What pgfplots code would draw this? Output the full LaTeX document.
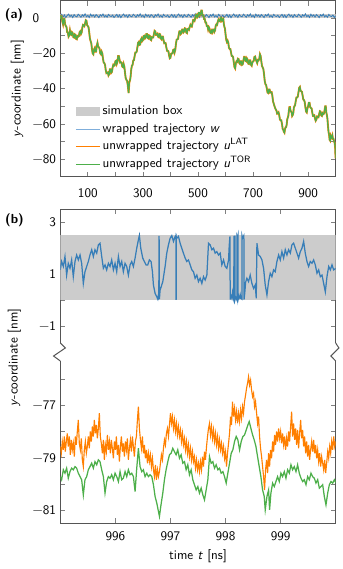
\documentclass[border=0pt]{standalone}
\usepackage{pgfplots}
\usepackage{pgfplotstable}
\pgfplotsset{compat=1.18}
\definecolor{cblue}{HTML}{377EB8}
\definecolor{lblue}{HTML}{7FAEDB}
\definecolor{corange}{HTML}{FF7F00}
\definecolor{cgreen}{HTML}{4DAF4A}
\definecolor{boxgray}{HTML}{CCCCCC}
\definecolor{axgray}{HTML}{555555}
\newcommand{\fnt}{\sffamily\fontsize{10.5}{12.6}\selectfont}

\pgfplotsset{
  myaxis/.style={
    scale only axis, width=220.3pt,
    axis line style={axgray, line width=0.8pt},
    tick style={gray, line width=0.6pt},
    major tick length=4pt,
    tick align=inside,
    tick label style={font=\fnt},
    label style={font=\fnt},
  },
  lineleg/.style={legend image code/.code={\draw[##1, line width=0.8pt] (0pt,0pt) -- (19pt,0pt);}},
  blueleg/.style={legend image code/.code={\draw[lblue, line width=0.8pt] (0pt,0pt) -- (19pt,0pt);}},
  boxleg/.style={legend image code/.code={\fill[boxgray] (0pt,-3.3pt) rectangle (19pt,3.3pt);}},
}

% unwrapped trajectory, full 1000 ns (both unwrappings coincide at this scale)
\pgfplotstableread{
t y
0 -0.5
2.5 1.2
5 1.0
7.5 -2.0
10 -3.5
12.5 -0.8
15 -0.5
17.5 -3.5
20 -4.5
22.5 -5.0
25 -8.0
27.5 -8.2
30 -10.5
32.5 -9.8
35 -7.0
37.5 -9.2
40 -9.5
42.5 -8.0
45 -8.5
47.5 -10.8
50 -11.0
52.5 -9.2
55 -9.5
57.5 -11.8
60 -12.0
62.5 -10.2
65 -10.5
67.5 -10.2
70 -8.0
72.5 -7.5
75 -9.0
77.5 -8.2
80 -5.5
82.5 -3.8
85 -4.0
87.5 -4.5
90 -3.0
92.5 -1.2
95 -1.5
97.5 -4.0
100 -4.5
102.5 -5.2
105 -8.0
107.5 -11.5
110 -13.0
112.5 -14.2
115 -17.5
117.5 -20.0
120 -20.5
122.5 -17.8
125 -17.0
127.5 -19.0
130 -19.0
132.5 -15.5
135 -14.0
137.5 -16.2
140 -16.5
142.5 -17.2
145 -20.0
147.5 -20.5
150 -19.0
152.5 -20.0
155 -23.0
157.5 -25.2
160 -25.5
162.5 -26.5
165 -29.5
167.5 -31.2
170 -31.0
172.5 -30.8
175 -32.5
177.5 -31.8
180 -29.0
182.5 -29.0
185 -31.0
187.5 -30.5
190 -28.0
192.5 -26.5
195 -27.0
197.5 -26.8
200 -24.5
202.5 -24.2
205 -26.0
207.5 -24.8
210 -21.5
212.5 -21.5
215 -23.5
217.5 -25.2
220 -25.0
222.5 -25.2
225 -27.5
227.5 -27.8
230 -26.0
232.5 -27.5
235 -31.0
237.5 -34.0
240 -35.0
242.5 -35.5
245 -38.0
248 -42.5
251 -36.0
253 -35.5
255 -33.5
257.5 -29.2
260 -27.0
262.5 -26.5
265 -24.0
267.5 -23.8
270 -21.5
272.5 -19.5
275 -19.5
277.5 -19.0
280 -16.5
282.5 -14.0
285 -13.5
287.5 -15.2
290 -15.0
292.5 -12.2
295 -11.5
297.5 -13.0
300 -12.5
302.5 -10.2
305 -10.0
307.5 -11.5
310 -11.0
312.5 -9.0
315 -9.0
317.5 -11.2
320 -11.5
322.5 -9.8
325 -10.0
327.5 -12.2
330 -12.5
332.5 -10.8
335 -11.0
337.5 -11.0
340 -9.0
342.5 -7.2
345 -7.5
347.5 -9.5
350 -9.5
352.5 -9.0
355 -10.5
357.5 -10.8
360 -9.0
362.5 -9.2
365 -11.5
367.5 -12.0
370 -10.5
372.5 -10.5
375 -12.5
377.5 -14.2
380 -14.0
382.5 -14.2
385 -16.5
387.5 -18.5
390 -18.5
392.5 -18.8
395 -21.0
397.5 -22.8
400 -22.5
402.5 -20.2
405 -20.0
407.5 -20.0
410 -18.0
412.5 -17.8
415 -19.5
417.5 -18.0
420 -14.5
422.5 -12.2
425 -12.0
427.5 -11.8
430 -9.5
432.5 -7.5
435 -7.5
437.5 -9.0
440 -8.5
442.5 -6.5
445 -6.5
447.5 -8.0
450 -7.5
452.5 -5.8
455 -6.0
457.5 -8.2
460 -8.5
462.5 -6.2
465 -6.0
467.5 -6.5
470 -5.0
472.5 -3.8
475 -4.5
477.5 -4.8
480 -3.0
482.5 -1.0
485 -1.0
487.5 -1.5
490 0.0
492.5 1.8
495 2.0
497.5 0.5
500 1.0
502.5 3.0
505 3.0
507.5 1.8
510 2.5
512 4.3
514 4.3
516 2.0
518 1.5
520 1.5
522 -0.5
524.5 -0.5
527 -2.5
529.5 -2.5
532 -4.5
534.5 -4.5
537 -6.5
539.5 -5.2
542 -6.0
544.5 -8.2
547 -8.5
549.5 -7.2
552 -8.0
554.5 -6.5
557 -6.5
559.5 -7.8
562 -7.0
564.5 -4.2
567 -3.5
569.5 -3.8
572 -2.0
574.5 -0.8
577 -1.5
579.5 -1.8
582 0.0
584.5 0.2
587 -1.5
589.5 -1.0
592 -0.5
594 -3.5
596 -5.0
598 -6.0
600 -9.0
602.5 -12.2
605 -13.5
607.5 -12.8
610 -14.0
612.5 -16.8
615 -17.5
617.5 -17.5
620 -19.5
622.5 -21.5
625 -21.5
627.5 -22.2
630 -25.0
632.5 -27.8
635 -28.5
637.5 -25.5
640 -24.5
642.5 -24.8
645 -23.0
647.5 -23.2
650 -25.5
652.5 -26.0
655 -24.5
657.5 -24.5
660 -26.5
662.5 -26.2
665 -24.0
667.5 -22.0
670 -22.0
672.5 -24.2
675 -24.5
677.5 -22.8
680 -23.5
682.5 -25.8
685 -26.0
687.5 -24.0
690 -24.0
692.5 -26.5
695 -27.0
697.5 -25.2
700 -24.5
702.5 -24.2
705 -22.0
707.5 -21.8
710 -23.5
712.5 -24.5
715 -25.5
717.5 -23.8
720 -24.0
722.5 -23.2
725 -20.5
727.5 -21.5
730 -24.5
732.5 -27.2
735 -28.0
737.5 -29.0
740 -32.0
742.5 -35.8
745 -37.5
747.5 -38.0
750 -40.0
752.5 -42.2
755 -42.5
757.5 -40.5
760 -40.5
762.5 -42.2
765 -42.0
767.5 -42.0
770 -44.0
772.5 -47.2
775 -48.5
777.5 -49.8
780 -51.0
782.5 -51.8
785 -52.5
787.5 -54.2
790 -54.0
792.5 -53.5
795 -55.0
797.5 -57.5
800 -58.0
802.5 -58.0
805 -60.0
807.5 -62.8
810 -63.5
812 -64.5
814 -65.0
816 -63.0
818 -62.0
820 -61.8
822 -60.5
824 -57.5
826 -56.5
828 -55.5
830 -52.5
832 -50.5
834 -50.5
836 -52.5
838 -53.0
840 -53.5
842 -55.5
844 -55.0
846 -54.0
848 -51.0
850 -50.0
852.5 -49.5
855 -47.0
857.5 -45.0
860 -45.0
862.5 -44.5
865 -42.0
867.5 -39.5
870 -39.0
872.5 -41.2
875 -41.5
877.5 -41.8
880 -44.0
882.5 -46.2
885 -46.5
887.5 -47.5
890 -50.5
892.5 -53.0
895 -53.5
897.5 -51.2
900 -50.0
902.5 -48.0
905 -48.0
907.5 -50.5
910 -51.0
912.5 -51.2
915 -53.5
917.5 -55.5
920 -55.5
922.5 -55.2
925 -57.0
927.5 -58.2
930 -57.5
932.5 -55.8
935 -56.0
937.5 -56.2
940 -54.5
942.5 -52.8
945 -53.0
947.5 -55.2
950 -55.5
952.5 -54.0
955 -54.5
957.5 -54.2
960 -52.0
962 -50.0
964 -50.0
966 -53.5
968 -55.0
970 -57.0
972 -61.0
974 -64.5
976 -66.0
978 -69.0
980 -69.5
982 -67.0
984 -68.0
986 -67.5
988 -66.5
990 -68.5
992 -68.5
994 -70.0
996 -70.5
998 -73.0
999 -77.0
1000 -79.5
}\trajA

\begin{document}
\begin{tikzpicture}[font=\fnt]
\useasboundingbox (0,0) rectangle (273.6pt,-455.2pt);

% ---------------- panel (a) ----------------
\begin{axis}[myaxis, name=pa, at={(48.24pt,-0.4pt)}, anchor=north west, height=141pt,
  xmin=0, xmax=1000, ymin=-90, ymax=10,
  xtick={100,200,...,900}, xticklabels={100,,300,,500,,700,,900},
  ytick={-80,-70,...,0}, yticklabels={−80,,−60,,−40,,−20,,0\phantom{−0}},
  xticklabel style={yshift=-5.8pt},
  ylabel={\textit{y}-coordinate [nm]},
  legend style={draw=none, fill=none, at={(0.04,0.435)}, anchor=north west,
    font=\fnt, row sep=0pt, nodes={inner sep=2pt, text height=7.5pt, text depth=2.5pt}},
  legend cell align=left,
]
\addplot[draw=none, fill=boxgray, boxleg] coordinates {(0,0) (1000,0) (1000,2.5) (0,2.5)} -- cycle;
\addlegendentry{simulation box}
\addplot[cblue, line width=0.7pt, blueleg] coordinates {
(0,1.2)(5,2.1)(10,0.6)(15,1.8)(20,0.3)(25,1.5)(30,2.3)(35,0.9)(40,1.7)(45,0.4)(50,2.0)(55,1.1)(60,0.7)(65,2.2)(70,1.4)(75,0.5)(80,1.9)(85,1.0)(90,2.4)(95,0.8)
(100,1.6)(105,0.4)(110,2.2)(115,1.0)(120,1.8)(125,0.6)(130,2.0)(135,1.3)(140,0.3)(145,1.9)(150,1.1)(155,2.3)(160,0.7)(165,1.5)(170,0.5)(175,2.1)(180,1.2)(185,0.9)(190,1.7)(195,0.4)
(200,1.2)(205,2.1)(210,0.6)(215,1.8)(220,0.3)(225,1.5)(230,2.3)(235,0.9)(240,1.7)(245,0.4)(250,2.0)(255,1.1)(260,0.7)(265,2.2)(270,1.4)(275,0.5)(280,1.9)(285,1.0)(290,2.4)(295,0.8)
(300,1.6)(305,0.4)(310,2.2)(315,1.0)(320,1.8)(325,0.6)(330,2.0)(335,1.3)(340,0.3)(345,1.9)(350,1.1)(355,2.3)(360,0.7)(365,1.5)(370,0.5)(375,2.1)(380,1.2)(385,0.9)(390,1.7)(395,0.4)
(400,1.2)(405,2.1)(410,0.6)(415,1.8)(420,0.3)(425,1.5)(430,2.3)(435,0.9)(440,1.7)(445,0.4)(450,2.0)(455,1.1)(460,0.7)(465,2.2)(470,1.4)(475,0.5)(480,1.9)(485,1.0)(490,2.4)(495,0.8)
(500,1.6)(505,0.4)(510,2.2)(515,1.0)(520,1.8)(525,0.6)(530,2.0)(535,1.3)(540,0.3)(545,1.9)(550,1.1)(555,2.3)(560,0.7)(565,1.5)(570,0.5)(575,2.1)(580,1.2)(585,0.9)(590,1.7)(595,0.4)
(600,1.2)(605,2.1)(610,0.6)(615,1.8)(620,0.3)(625,1.5)(630,2.3)(635,0.9)(640,1.7)(645,0.4)(650,2.0)(655,1.1)(660,0.7)(665,2.2)(670,1.4)(675,0.5)(680,1.9)(685,1.0)(690,2.4)(695,0.8)
(700,1.6)(705,0.4)(710,2.2)(715,1.0)(720,1.8)(725,0.6)(730,2.0)(735,1.3)(740,0.3)(745,1.9)(750,1.1)(755,2.3)(760,0.7)(765,1.5)(770,0.5)(775,2.1)(780,1.2)(785,0.9)(790,1.7)(795,0.4)
(800,1.2)(805,2.1)(810,0.6)(815,1.8)(820,0.3)(825,1.5)(830,2.3)(835,0.9)(840,1.7)(845,0.4)(850,2.0)(855,1.1)(860,0.7)(865,2.2)(870,1.4)(875,0.5)(880,1.9)(885,1.0)(890,2.4)(895,0.8)
(900,1.6)(905,0.4)(910,2.2)(915,1.0)(920,1.8)(925,0.6)(930,2.0)(935,1.3)(940,0.3)(945,1.9)(950,1.1)(955,2.3)(960,0.7)(965,1.5)(970,0.5)(975,2.1)(980,1.2)(985,0.9)(990,1.7)(995,0.4)(1000,1.2)
};
\addlegendentry{wrapped trajectory \textit{w}}
\addplot[corange, line width=1.5pt, lineleg] table[x=t, y=y] {\trajA};
\addlegendentry{unwrapped trajectory \textit{u}\textsuperscript{LAT}}
\addplot[cgreen, line width=1pt, lineleg] table[x=t, y=y] {\trajA};
\addlegendentry{unwrapped trajectory \textit{u}\textsuperscript{TOR}}
\end{axis}

% ---------------- panel (b), upper part ----------------
\begin{axis}[myaxis, name=bu, at={(48.24pt,-167.2pt)}, anchor=north west, height=107.2pt,
  xmin=995, xmax=1000, ymin=-1.63, ymax=3.5,
  axis x line*=top, axis y line*=box, x axis line style={-}, y axis line style={-},
  xtick pos=upper, ytick pos=both,
  xtick={996,997,998,999}, xticklabels={},
  ytick={-1,0,1,2,3}, yticklabels={−1,,1,,3},
]
\addplot[draw=none, fill=boxgray] coordinates {(995,0) (1000,0) (1000,2.5) (995,2.5)} -- cycle;
\addplot[cblue, line width=1pt] coordinates {
(995.000,1.17)(995.024,1.49)(995.055,1.30)(995.085,1.68)(995.115,0.97)(995.145,1.42)(995.176,1.23)(995.206,1.55)
(995.236,0.91)(995.267,1.49)(995.297,1.74)(995.327,1.55)(995.358,1.74)(995.388,1.42)(995.418,0.65)(995.448,1.10)
(995.479,1.30)(995.509,1.49)(995.539,1.74)(995.570,1.94)(995.600,1.68)(995.630,1.94)(995.661,1.81)(995.691,2.13)
(995.721,2.19)(995.752,1.68)(995.782,1.23)(995.812,1.36)(995.842,1.17)(995.873,1.42)(995.903,1.30)(995.933,1.55)
(995.964,1.17)(995.994,1.42)(996.024,1.10)(996.055,1.68)(996.085,1.30)(996.115,1.49)(996.145,1.10)(996.176,1.42)
(996.206,1.30)(996.236,0.97)(996.267,1.36)(996.297,1.49)(996.327,1.30)(996.358,1.62)(996.388,2.00)(996.418,2.32)
(996.436,2.49)(996.461,2.00)(996.497,1.62)(996.527,1.49)(996.558,1.36)(996.588,1.36)(996.618,1.55)(996.648,1.49)
(996.673,1.10)(996.691,0.59)(996.721,0.27)(996.752,0.14)(996.770,0.05)(996.782,0.21)(996.788,0.03)(996.794,2.47)
(996.800,0.06)(996.812,0.40)(996.836,0.55)(996.861,0.72)(996.903,1.30)(996.933,1.81)(996.964,2.13)(996.994,2.38)
(997.024,2.48)(997.055,2.26)(997.085,2.45)(997.100,2.49)(997.103,0.02)(997.106,2.44)(997.115,2.38)(997.145,2.45)
(997.176,2.19)(997.206,2.00)(997.236,1.81)(997.267,1.62)(997.297,1.49)(997.327,1.55)(997.358,1.36)(997.388,1.17)
(997.418,1.10)(997.448,0.85)(997.479,0.97)(997.509,0.72)(997.539,0.85)(997.570,0.65)(997.600,0.91)(997.630,0.78)
(997.661,0.97)(997.691,2.19)(997.721,2.13)(997.752,1.94)(997.782,2.00)(997.812,1.81)(997.842,1.87)(997.873,1.74)
(997.903,1.81)(997.933,1.36)(997.964,1.55)(997.994,1.30)(998.024,1.23)(998.055,1.55)(998.067,2.10)(998.080,2.45)
(998.085,0.03)(998.095,0.20)(998.103,0.15)(998.115,0.08)(998.127,0.30)(998.140,0.10)(998.150,0.02)(998.153,2.47)
(998.160,2.35)(998.170,2.48)(998.173,0.03)(998.185,0.12)(998.200,0.05)(998.206,0.02)(998.209,2.46)(998.218,2.40)
(998.226,2.48)(998.229,0.04)(998.240,0.15)(998.255,0.10)(998.267,0.22)(998.280,0.08)(998.297,0.05)(998.300,2.47)
(998.310,2.38)(998.320,2.42)(998.333,2.48)(998.336,0.03)(998.350,0.30)(998.365,0.70)(998.388,0.85)(998.418,0.72)
(998.448,0.97)(998.479,0.65)(998.509,0.46)(998.539,0.59)(998.558,0.08)(998.570,2.19)(998.600,1.74)(998.630,1.68)
(998.661,1.55)(998.691,1.23)(998.721,0.59)(998.752,0.21)(998.782,0.72)(998.812,1.04)(998.842,0.91)(998.873,1.17)
(998.903,1.10)(998.933,1.49)(998.964,1.74)(998.994,1.55)(999.024,1.87)(999.055,1.62)(999.085,1.94)(999.115,1.74)
(999.145,1.94)(999.176,1.81)(999.206,2.13)(999.236,2.19)(999.267,2.00)(999.297,1.81)(999.327,1.62)(999.358,1.87)
(999.388,2.00)(999.418,2.26)(999.448,1.81)(999.479,1.49)(999.509,1.30)(999.539,1.49)(999.570,1.42)(999.600,1.55)
(999.630,1.36)(999.661,1.04)(999.691,1.17)(999.721,0.91)(999.752,0.97)(999.782,0.65)(999.812,0.33)(999.842,0.91)
(999.873,1.30)(999.903,1.17)(999.933,1.36)(999.964,1.17)(1000.006,1.23)
};
\end{axis}

% ---------------- panel (b), lower part ----------------
\begin{axis}[myaxis, name=bl, at={(48.24pt,-288.8pt)}, anchor=north west, height=129.8pt,
  xmin=995, xmax=1000, ymin=-81.5, ymax=-75.31,
  axis x line*=bottom, axis y line*=box, x axis line style={-}, y axis line style={-},
  xtick pos=lower, ytick pos=both,
  xtick={996,997,998,999}, xticklabels={996,997,998,999},
  xticklabel style={yshift=-3.2pt},
  ytick={-81,-80,...,-76}, yticklabels={−81,,−79,,−77,},
  xlabel={time \textit{t} [ns]},
]
\addplot[corange, line width=0.9pt] coordinates {
(995.000,-78.57)(995.018,-78.83)(995.036,-78.38)(995.055,-78.70)(995.073,-78.19)(995.091,-78.77)(995.109,-78.38)(995.127,-78.07)
(995.145,-78.57)(995.164,-78.19)(995.182,-78.89)(995.200,-78.32)(995.218,-78.70)(995.236,-78.45)(995.255,-78.96)(995.273,-78.19)
(995.291,-78.51)(995.309,-78.00)(995.327,-77.56)(995.345,-78.45)(995.364,-78.70)(995.382,-78.26)(995.400,-79.08)(995.418,-79.34)
(995.436,-78.70)(995.455,-78.38)(995.473,-78.83)(995.491,-78.57)(995.509,-78.19)(995.527,-78.64)(995.545,-78.00)(995.564,-78.38)
(995.582,-77.81)(995.600,-78.19)(995.618,-77.56)(995.636,-78.07)(995.655,-77.75)(995.673,-78.26)(995.691,-77.88)(995.709,-77.30)
(995.727,-78.19)(995.745,-78.45)(995.764,-78.83)(995.782,-78.32)(995.800,-79.08)(995.818,-78.51)(995.836,-78.77)(995.855,-78.13)
(995.873,-78.70)(995.891,-78.38)(995.909,-78.83)(995.927,-78.32)(995.945,-78.64)(995.964,-79.02)(995.982,-78.38)(996.000,-78.70)
(996.018,-78.19)(996.036,-78.89)(996.055,-78.51)(996.073,-79.15)(996.091,-78.57)(996.109,-78.19)(996.127,-78.77)(996.145,-78.45)
(996.164,-78.96)(996.182,-78.38)(996.200,-78.70)(996.218,-78.26)(996.236,-79.08)(996.255,-78.64)(996.273,-78.32)(996.291,-78.77)
(996.309,-78.19)(996.327,-78.57)(996.345,-78.96)(996.364,-78.38)(996.382,-78.19)(996.400,-77.56)(996.418,-77.05)(996.436,-77.88)
(996.455,-78.32)(996.473,-78.64)(996.491,-78.19)(996.509,-78.83)(996.527,-78.51)(996.545,-79.02)(996.564,-78.70)(996.582,-79.21)
(996.600,-78.83)(996.618,-79.15)(996.636,-78.89)(996.655,-79.34)(996.673,-79.02)(996.691,-79.46)(996.709,-79.72)(996.727,-79.27)
(996.745,-79.84)(996.764,-79.46)(996.782,-79.72)(996.800,-79.53)(996.818,-79.21)(996.836,-78.89)(996.855,-79.08)(996.873,-78.64)
(996.891,-78.32)(996.909,-78.51)(996.927,-78.07)(996.945,-77.88)(996.964,-78.19)(996.982,-77.75)(997.000,-77.30)(997.018,-77.69)
(997.036,-77.43)(997.055,-77.88)(997.073,-77.56)(997.091,-78.00)(997.109,-77.69)(997.127,-78.13)(997.145,-77.81)(997.164,-78.19)
(997.182,-77.94)(997.200,-78.38)(997.218,-78.07)(997.236,-78.51)(997.255,-78.26)(997.273,-78.70)(997.291,-78.38)(997.309,-78.83)
(997.327,-78.51)(997.345,-78.96)(997.364,-78.64)(997.382,-79.08)(997.400,-78.77)(997.418,-79.15)(997.436,-78.96)(997.455,-79.40)
(997.473,-79.08)(997.491,-79.46)(997.509,-79.21)(997.527,-79.53)(997.545,-79.15)(997.564,-79.46)(997.582,-78.96)(997.600,-79.34)
(997.618,-78.77)(997.636,-79.08)(997.655,-78.57)(997.673,-78.19)(997.691,-77.88)(997.709,-77.69)(997.727,-78.13)(997.745,-77.81)
(997.764,-78.26)(997.782,-77.94)(997.800,-78.38)(997.818,-78.07)(997.836,-78.51)(997.855,-78.19)(997.873,-78.64)(997.891,-78.32)
(997.909,-78.70)(997.927,-78.45)(997.945,-78.83)(997.964,-78.57)(997.982,-79.02)(998.000,-78.77)(998.018,-79.34)(998.036,-78.83)
(998.055,-78.45)(998.073,-78.07)(998.091,-77.43)(998.109,-77.75)(998.127,-76.86)(998.145,-77.43)(998.164,-77.11)(998.182,-77.56)
(998.200,-77.24)(998.218,-77.69)(998.236,-77.30)(998.255,-77.62)(998.273,-77.18)(998.291,-77.50)(998.309,-77.05)(998.327,-77.30)
(998.345,-76.86)(998.364,-76.61)(998.382,-76.35)(998.400,-76.16)(998.418,-75.91)(998.436,-76.23)(998.455,-76.04)(998.473,-76.42)
(998.491,-76.67)(998.509,-76.54)(998.527,-77.05)(998.545,-76.86)(998.564,-77.30)(998.582,-77.69)(998.600,-77.43)(998.618,-78.19)
(998.636,-78.64)(998.655,-78.96)(998.673,-79.34)(998.691,-79.72)(998.709,-80.23)(998.727,-79.46)(998.745,-79.08)(998.764,-79.59)
(998.782,-78.83)(998.800,-79.34)(998.818,-78.70)(998.836,-79.02)(998.855,-78.38)(998.873,-78.77)(998.891,-78.13)(998.909,-78.51)
(998.927,-78.00)(998.945,-78.38)(998.964,-77.88)(998.982,-78.26)(999.000,-78.00)(999.018,-78.45)(999.036,-78.07)(999.055,-78.51)
(999.073,-78.19)(999.091,-78.70)(999.109,-78.26)(999.127,-78.57)(999.145,-78.00)(999.164,-78.38)(999.182,-77.81)(999.200,-77.24)
(999.218,-78.19)(999.236,-77.69)(999.255,-78.32)(999.273,-77.88)(999.291,-78.51)(999.309,-77.94)(999.327,-78.64)(999.345,-78.07)
(999.364,-77.56)(999.382,-78.26)(999.400,-77.94)(999.418,-78.57)(999.436,-78.19)(999.455,-78.83)(999.473,-78.38)(999.491,-78.96)
(999.509,-78.51)(999.527,-79.08)(999.545,-78.70)(999.564,-78.38)(999.582,-78.77)(999.600,-78.32)(999.618,-78.83)(999.636,-78.51)
(999.655,-79.02)(999.673,-78.70)(999.691,-79.15)(999.709,-78.83)(999.727,-79.34)(999.745,-78.96)(999.764,-79.21)(999.782,-79.46)
(999.800,-79.08)(999.818,-79.59)(999.836,-79.21)(999.855,-78.77)(999.873,-79.02)(999.891,-78.57)(999.909,-78.83)(999.927,-78.38)
(999.945,-78.70)(999.964,-78.19)(999.982,-78.57)(1000.000,-78.38)
};
\addplot[cgreen, line width=1pt] coordinates {
(995.000,-79.72)(995.024,-79.84)(995.055,-79.46)(995.085,-79.59)(995.115,-79.40)(995.145,-79.78)(995.176,-79.53)(995.206,-79.40)
(995.236,-79.46)(995.267,-79.34)(995.297,-79.40)(995.327,-79.59)(995.358,-79.72)(995.388,-79.84)(995.418,-80.42)(995.448,-79.84)
(995.479,-79.72)(995.509,-79.46)(995.539,-79.34)(995.570,-79.21)(995.600,-79.40)(995.630,-79.15)(995.661,-79.27)(995.691,-79.08)
(995.721,-79.15)(995.752,-79.46)(995.782,-79.72)(995.812,-80.35)(995.842,-79.91)(995.873,-79.72)(995.903,-79.78)(995.933,-79.65)
(995.964,-79.84)(995.994,-79.59)(996.024,-79.72)(996.055,-79.91)(996.085,-79.53)(996.115,-79.84)(996.145,-79.78)(996.176,-79.53)
(996.206,-79.72)(996.236,-79.46)(996.267,-79.65)(996.297,-79.59)(996.327,-79.72)(996.358,-80.29)(996.388,-79.40)(996.418,-78.64)
(996.448,-79.34)(996.479,-79.53)(996.509,-79.46)(996.539,-79.72)(996.570,-79.59)(996.600,-79.72)(996.630,-79.65)(996.661,-79.72)
(996.691,-80.03)(996.721,-80.48)(996.752,-80.73)(996.782,-81.05)(996.800,-81.24)(996.824,-80.86)(996.861,-80.35)(996.891,-79.84)
(996.921,-79.46)(996.952,-79.15)(996.982,-78.89)(997.012,-78.83)(997.042,-78.64)(997.073,-78.77)(997.103,-78.89)(997.133,-78.70)
(997.164,-79.02)(997.194,-78.89)(997.224,-79.21)(997.255,-79.15)(997.285,-79.46)(997.315,-79.27)(997.345,-79.65)(997.376,-79.46)
(997.406,-79.84)(997.436,-80.03)(997.467,-80.23)(997.497,-80.10)(997.527,-80.35)(997.558,-80.16)(997.588,-80.42)(997.618,-80.61)
(997.648,-80.23)(997.679,-79.84)(997.709,-78.96)(997.739,-79.21)(997.770,-79.15)(997.800,-79.40)(997.830,-79.27)(997.861,-79.46)
(997.891,-79.40)(997.921,-79.59)(997.952,-79.53)(997.982,-79.72)(998.012,-79.97)(998.042,-79.59)(998.073,-79.21)(998.103,-78.83)
(998.133,-78.70)(998.164,-78.38)(998.194,-78.19)(998.224,-78.32)(998.255,-78.70)(998.285,-78.38)(998.315,-78.19)(998.345,-78.13)
(998.376,-77.94)(998.406,-77.75)(998.430,-77.62)(998.461,-77.88)(998.491,-78.13)(998.521,-78.32)(998.552,-78.57)(998.582,-78.96)
(998.612,-79.34)(998.642,-79.72)(998.673,-80.23)(998.703,-80.48)(998.721,-80.99)(998.752,-80.48)(998.782,-80.23)(998.800,-80.99)
(998.824,-80.35)(998.855,-79.97)(998.885,-80.10)(998.915,-79.91)(998.945,-79.72)(998.976,-79.91)(999.006,-79.59)(999.036,-79.72)
(999.067,-79.53)(999.097,-79.78)(999.127,-79.46)(999.158,-79.59)(999.188,-79.27)(999.218,-79.46)(999.248,-79.34)(999.279,-79.53)
(999.309,-79.27)(999.339,-79.59)(999.370,-79.78)(999.400,-79.91)(999.430,-79.84)(999.461,-80.03)(999.491,-79.72)(999.521,-79.84)
(999.552,-79.59)(999.582,-79.72)(999.612,-79.78)(999.642,-79.97)(999.673,-79.84)(999.703,-80.16)(999.733,-80.10)(999.764,-80.03)
(999.794,-80.48)(999.824,-80.80)(999.855,-80.35)(999.885,-80.03)(999.915,-79.91)(999.945,-79.97)(999.976,-79.84)(1000.006,-79.97)
};
\end{axis}

% axis break marks
\draw[axgray, line width=0.8pt] (bu.south west) -- ++(4pt,-4pt) -- ++(-9.4pt,-6.4pt) -- (bl.north west);
\draw[axgray, line width=0.8pt] (bu.south east) -- ++(2.6pt,-4pt) -- ++(-6.4pt,-6.4pt) -- (bl.north east);

% panel letters and the shared label of panel (b)
\node[font=\fnt\bfseries] at (11.2pt,-11.8pt) {(a)};
\node[font=\fnt\bfseries] at (11.6pt,-176pt) {(b)};
\node[rotate=90, font=\fnt] at (11.5pt,-286pt) {\textit{y}-coordinate [nm]};
\end{tikzpicture}
\end{document}
